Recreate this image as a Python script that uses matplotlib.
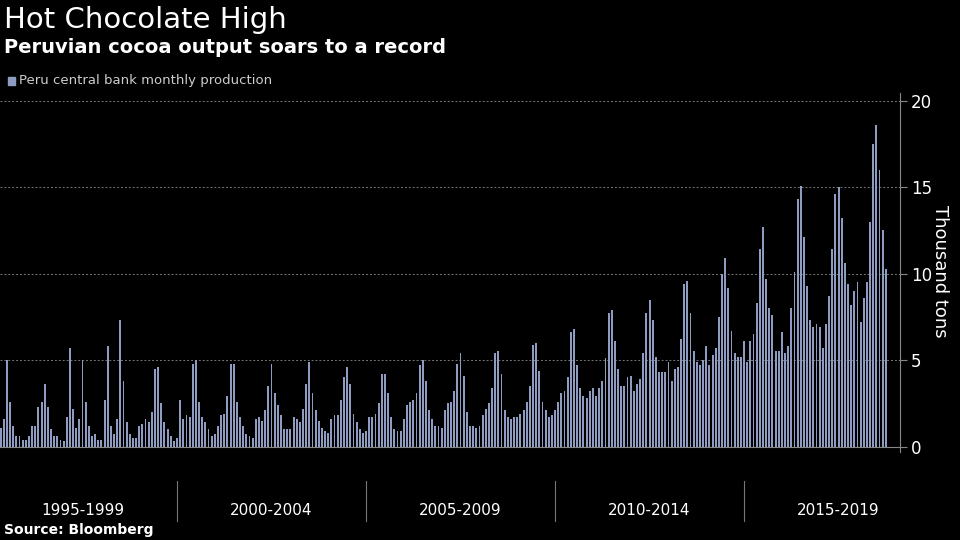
import matplotlib
matplotlib.use("Agg")
import matplotlib.pyplot as plt
from matplotlib.transforms import blended_transform_factory

# Monthly cocoa production, thousand tons, starting ~Apr 1995
production = [
    1.1, 1.6, 5.0, 2.6, 1.2, 0.6, 0.6, 0.4, 0.4, 0.6, 1.2, 1.2, 2.3, 2.6, 3.6, 2.3,
    1.0, 0.6, 0.6, 0.4, 0.3, 1.7, 5.7, 2.2, 1.1, 1.6, 5.0, 2.6, 1.2, 0.6, 0.7, 0.4,
    0.4, 2.7, 5.8, 1.2, 0.7, 1.6, 7.3, 3.8, 1.4, 0.7, 0.5, 0.5, 1.2, 1.3, 1.6, 1.4,
    2.0, 4.5, 4.6, 2.5, 1.4, 1.0, 0.6, 0.3, 0.5, 2.7, 1.6, 1.8, 1.7, 4.8, 5.0, 2.6,
    1.7, 1.4, 1.0, 0.6, 0.7, 1.2, 1.8, 1.9, 2.9, 4.8, 4.8, 2.6, 1.7, 1.2, 0.7, 0.6,
    0.5, 1.6, 1.7, 1.5, 2.1, 3.5, 4.8, 3.1, 2.4, 1.8, 1.0, 1.0, 1.0, 1.7, 1.6, 1.4,
    2.2, 3.6, 4.9, 3.1, 2.1, 1.5, 1.1, 0.9, 0.8, 1.6, 1.8, 1.8, 2.7, 4.0, 4.6, 3.6,
    1.9, 1.4, 1.0, 0.8, 0.9, 1.7, 1.7, 1.9, 2.5, 4.2, 4.2, 3.1,
    1.7, 1.0, 0.9, 0.9, 1.6, 2.4, 2.6, 2.7, 3.1, 4.7, 5.0, 3.8, 2.1, 1.6, 1.2, 1.2,
    1.1, 2.1, 2.5, 2.6, 3.2, 4.8, 5.4, 4.1, 2.0, 1.2, 1.2, 1.1, 1.2, 1.8, 2.2, 2.5,
    3.4, 5.4, 5.5, 4.2, 2.1, 1.7, 1.6, 1.7, 1.7, 1.9, 2.1, 2.6, 3.5, 5.9, 6.0, 4.4,
    2.6, 2.1, 1.7, 1.8, 2.1, 2.6, 3.1, 3.2, 4.0, 6.6, 6.8, 4.7,
    3.4, 2.9, 2.8, 3.2, 3.4, 2.9, 3.4, 3.8, 5.1, 7.7, 7.9, 6.1, 4.5, 3.5, 3.5, 4.0,
    4.1, 3.2, 3.6, 3.9, 5.4, 7.7, 8.5, 7.3, 5.2, 4.3, 4.3, 4.3, 4.9, 3.8, 4.5, 4.6,
    6.2, 9.4, 9.6, 7.7, 5.5, 4.9, 4.7, 5.0, 5.8, 4.7, 5.3, 5.7, 7.5, 10.0, 10.9, 9.2,
    6.7, 5.4, 5.2, 5.2, 6.1, 4.9, 6.1,
    6.5, 8.3, 11.4, 12.7, 9.7, 8.0, 7.6, 5.5, 5.5, 6.6, 5.4, 5.8, 8.0, 10.1, 14.3, 15.1,
    12.1, 9.3, 7.3, 6.9, 7.1, 6.9, 5.7, 7.1, 8.7, 11.4, 14.6, 15.0, 13.2, 10.6, 9.4, 8.2,
    9.0, 9.5, 7.2, 8.6, 9.5, 13.0, 17.5, 18.6, 16.0, 12.5, 10.3,
]
start_month = 4  # months since Jan 1995
period_labels = ["1995-1999", "2000-2004", "2005-2009", "2010-2014", "2015-2019"]
y_ticks = [0, 5, 10, 15, 20]

fig = plt.figure(figsize=(9.6, 5.4), dpi=100, facecolor="black")
ax = fig.add_axes([0, 0.109, 0.9375, 0.719], facecolor="black")
xs = [start_month + i for i in range(len(production))]
ax.bar(xs, production, width=0.6, color="#8e9cc2", zorder=3)
ax.set_xlim(3.8, 289.5)
ax.set_ylim(-2, 20.46)
for t in y_ticks[1:]:
    ax.axhline(t, color="#777777", lw=0.7, ls=(0, (2, 2)), zorder=1)
ax.axhline(0, color="#888888", lw=0.8, zorder=2)
ax.yaxis.tick_right()
ax.set_yticks(y_ticks)
ax.set_yticklabels([str(t) for t in y_ticks], color="white", fontsize=12)
ax.tick_params(axis="y", length=5, color="#888888", pad=3)
ax.set_xticks([])
for s in ax.spines.values():
    s.set_visible(False)
ax.spines["right"].set_visible(True)
ax.spines["right"].set_color("#888888")
ax.spines["right"].set_bounds(-0.3, 20.46)
ax.text(1.045, 0.54, "Thousand tons", transform=ax.transAxes, rotation=270,
        color="white", fontsize=13, ha="center", va="center")

tr = blended_transform_factory(ax.transData, fig.transFigure)
for k, lab in enumerate(period_labels):
    ax.text(30 + 60 * k, 0.055, lab, transform=tr, color="white", fontsize=11,
            ha="center", va="center")
    if k > 0:
        ax.plot([60 * k, 60 * k], [0.035, 0.11], transform=tr, color="#777777",
                lw=0.8, clip_on=False)

fig.text(0.004, 0.963, "Hot Chocolate High", color="white", fontsize=21, va="center")
fig.text(0.004, 0.912, "Peruvian cocoa output soars to a record", color="white",
         fontsize=14, fontweight="bold", va="center")
fig.patches.append(plt.Rectangle((0.008, 0.843), 0.008, 0.014, transform=fig.transFigure,
                                 color="#8e9cc2"))
fig.text(0.02, 0.851, "Peru central bank monthly production", color="#cccccc",
         fontsize=9.5, va="center")
fig.text(0.004, 0.018, "Source: Bloomberg", color="white", fontsize=10,
         fontweight="bold", va="center")
fig.savefig("out.png", dpi=100, facecolor="black")
